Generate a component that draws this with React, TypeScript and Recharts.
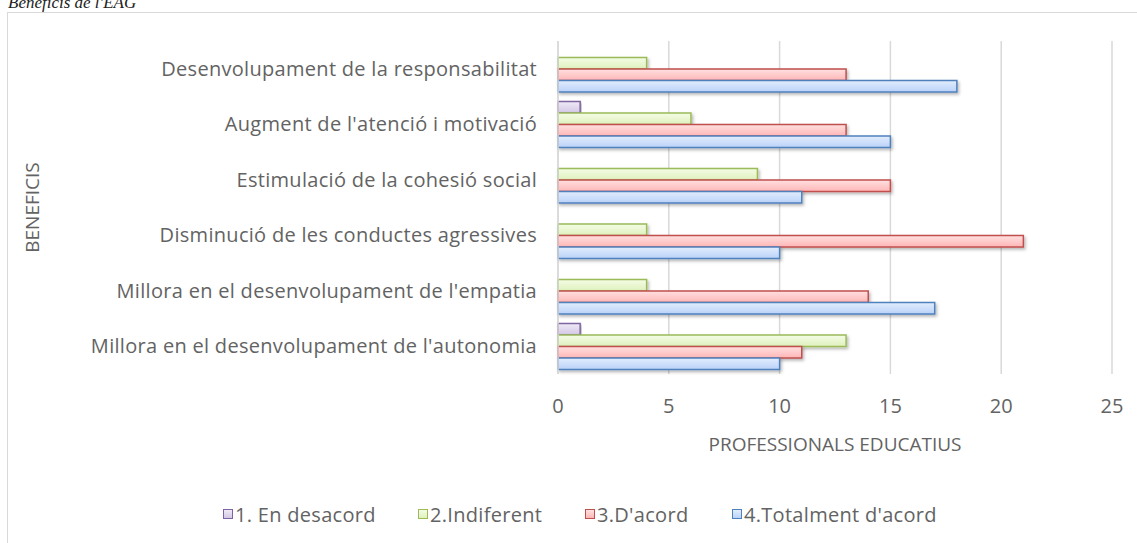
import React from 'react';
import { BarChart, Bar, XAxis, YAxis, CartesianGrid } from 'recharts';

const categories = [
  'Desenvolupament de la responsabilitat',
  "Augment de l'atenció i motivació",
  'Estimulació de la cohesió social',
  'Disminució de les conductes agressives',
  "Millora en el desenvolupament de l'empatia",
  "Millora en el desenvolupament de l'autonomia",
];
const enDesacord = [0, 1, 0, 0, 0, 1];
const indiferent = [4, 6, 9, 4, 4, 13];
const dAcord = [13, 13, 15, 21, 14, 11];
const totalmentDAcord = [18, 15, 11, 10, 17, 10];
const xTicks = [0, 5, 10, 15, 20, 25];

const series = [
  { key: 'desacord', name: '1. En desacord', values: enDesacord, stroke: '#8064a2', top: '#efeaf6', bottom: '#d3c7e5' },
  { key: 'indiferent', name: '2.Indiferent', values: indiferent, stroke: '#9bbb59', top: '#f4fce5', bottom: '#dff1bd' },
  { key: 'acord', name: "3.D'acord", values: dAcord, stroke: '#c0504d', top: '#ffe0e0', bottom: '#ffb6b6' },
  { key: 'totalment', name: "4.Totalment d'acord", values: totalmentDAcord, stroke: '#4f81bd', top: '#e2edfd', bottom: '#bad2f8' },
];

const data = categories.map((name, i) => {
  const row: Record<string, string | number> = { name };
  series.forEach((s) => {
    row[s.key] = s.values[i];
  });
  return row;
});

const textColor = '#636363';
const font = '"Open Sans", sans-serif';
const legendLeft = [223, 418, 585, 732];

export default function App() {
  return (
    <div style={{ position: 'relative', width: 1137, height: 543, overflow: 'hidden', background: '#fff' }}>
      <style>{`body{margin:0;overflow:hidden}`}</style>
      <div
        style={{
          position: 'absolute',
          left: 8,
          top: -7,
          fontFamily: '"Liberation Serif", serif',
          fontStyle: 'italic',
          fontSize: 17,
          color: '#222',
          lineHeight: '19px',
        }}
      >
        Beneficis de l'EAG
      </div>
      <div
        style={{
          position: 'absolute',
          left: 7,
          top: 12,
          width: 1160,
          height: 560,
          border: '1.5px solid #d9d9d9',
        }}
      >
        <BarChart
          width={1130}
          height={530}
          data={data}
          layout="vertical"
          margin={{ top: 28, right: 26, bottom: 69, left: 0 }}
          barSize={11.5}
          barGap={0}
          style={{ fontFamily: font }}
        >
          <defs>
            {series.map((s) => (
              <linearGradient key={s.key} id={`grad-${s.key}`} x1="0" y1="0" x2="0" y2="1">
                <stop offset="0%" stopColor={s.top} />
                <stop offset="100%" stopColor={s.bottom} />
              </linearGradient>
            ))}
            <filter id="barShadow" x="-5%" y="-40%" width="110%" height="200%">
              <feDropShadow dx="1.5" dy="2" stdDeviation="1.5" floodColor="#000" floodOpacity="0.28" />
            </filter>
          </defs>
          <CartesianGrid horizontal={false} vertical stroke="#d9d9d9" strokeWidth={1.5} />
          <XAxis
            type="number"
            domain={[0, 25]}
            ticks={xTicks}
            axisLine={false}
            tickLine={false}
            tickSize={0}
            tickMargin={25}
            height={100}
            tick={{ fill: textColor, fontSize: 20 }}
            label={{
              value: 'PROFESSIONALS EDUCATIUS',
              position: 'insideBottom',
              offset: 23,
              fill: textColor,
              fontSize: 19,
            }}
          />
          <YAxis
            type="category"
            dataKey="name"
            width={550}
            axisLine={{ stroke: '#d9d9d9', strokeWidth: 1.5 }}
            tickLine={false}
            tickSize={0}
            tickMargin={21}
            interval={0}
            tick={{ fill: textColor, fontSize: 20, letterSpacing: 0.3 }}
            label={{
              value: 'BENEFICIS',
              angle: -90,
              position: 'insideLeft',
              offset: 24,
              fill: textColor,
              fontSize: 19,
              style: { textAnchor: 'middle' },
            }}
          />
          {series.map((s) => (
            <Bar
              key={s.key}
              dataKey={s.key}
              name={s.name}
              fill={`url(#grad-${s.key})`}
              stroke={s.stroke}
              strokeWidth={1.5}
              filter="url(#barShadow)"
              isAnimationActive={false}
            />
          ))}
        </BarChart>
      </div>
      <div style={{ position: 'absolute', left: 0, top: 500, width: 1137, height: 30, fontFamily: font, color: textColor, fontSize: 20, letterSpacing: 0.3 }}>
        {series.map((s, i) => (
          <div
            key={s.key}
            style={{ position: 'absolute', left: legendLeft[i], top: 0, display: 'flex', alignItems: 'center', height: 28, whiteSpace: 'nowrap' }}
          >
            <span
              style={{
                display: 'inline-block',
                boxSizing: 'border-box',
                width: 10,
                height: 10,
                border: `1.5px solid ${s.stroke}`,
                background: `linear-gradient(${s.top}, ${s.bottom})`,
                marginRight: 2,
                flexShrink: 0,
              }}
            />
            {s.name}
          </div>
        ))}
      </div>
    </div>
  );
}
